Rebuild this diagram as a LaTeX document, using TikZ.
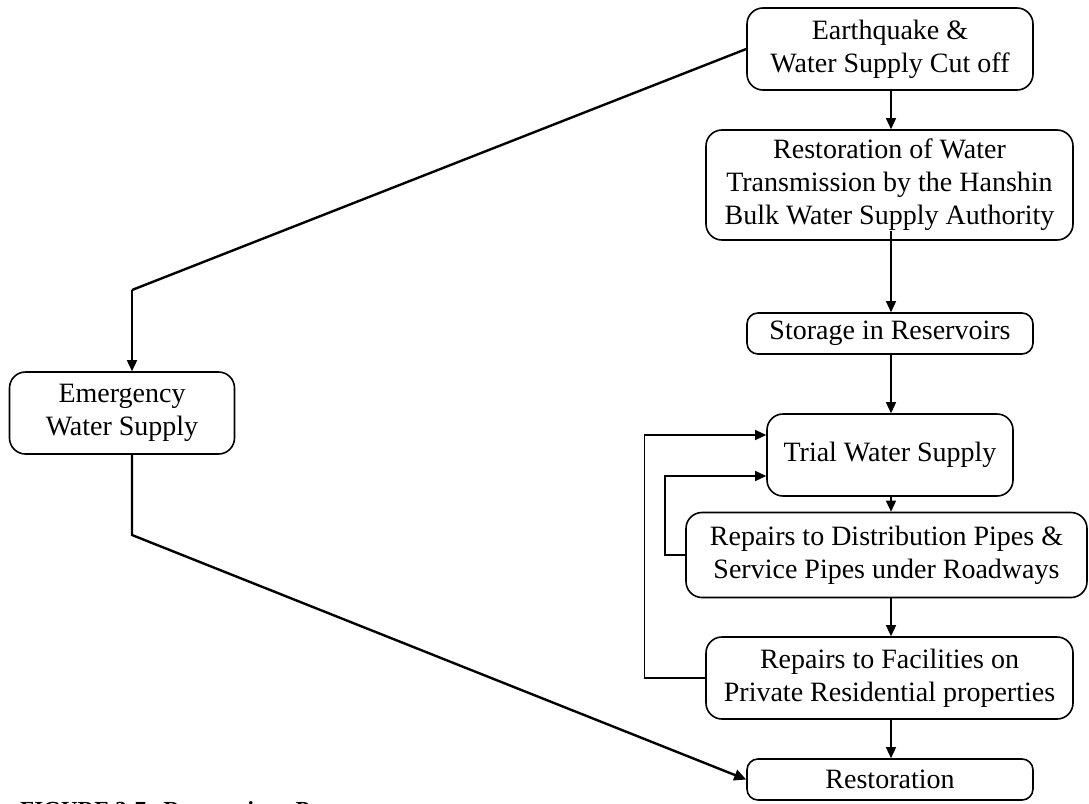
\documentclass[tikz,border=0pt]{standalone}
\usepackage{fontspec}
\setmainfont{Liberation Serif}
\usetikzlibrary{arrows.meta}
\begin{document}
\begin{tikzpicture}[x=1pt,y=-1pt,
  box/.style={draw, line width=1.6pt, rounded corners=16pt, align=center, inner sep=0pt,
    font=\fontsize{28}{33}\selectfont},
  flow/.style={line width=1.3pt, -{Triangle[length=11pt,width=10pt]}},
  heavy/.style={line width=2.4pt},
  heavyflow/.style={line width=2.4pt, -{Triangle[length=12pt,width=11pt]}},
]
\useasboundingbox (0,0) rectangle (1089,803);
\clip (0,0) rectangle (1089,803);

\node[box, minimum width=286pt, minimum height=82pt] (eq) at (890,49) {Earthquake \&\\Water Supply Cut off};
\node[box, minimum width=367pt, minimum height=110pt] (rw) at (889.5,185) {Restoration of Water\\Transmission by the Hanshin\\Bulk Water Supply Authority};
\node[box, rounded corners=11pt, minimum width=286pt, minimum height=41pt] (st) at (890,333.5) {Storage in Reservoirs};
\node[box, minimum width=246pt, minimum height=82pt] (tw) at (890,455) {\raisebox{4pt}{Trial Water Supply}};
\node[box, minimum width=401pt, minimum height=85pt] (rd) at (886.5,555) {Repairs to Distribution Pipes \&\\Service Pipes under Roadways};
\node[box, minimum width=367pt, minimum height=82pt] (rf) at (889.5,678) {Repairs to Facilities on\\Private Residential properties};
\node[box, rounded corners=11pt, minimum width=286pt, minimum height=41pt] (rs) at (890,779.5) {Restoration};
\node[box, minimum width=225pt, minimum height=82pt] (em) at (122,413) {Emergency\\Water Supply};

\node[anchor=base west, inner sep=0pt, font=\bfseries\fontsize{23}{27}\selectfont] (cap) at (20,817)
  {FIGURE 3-7\enspace\ Restoration\enspace\ Process};

% main column
\coordinate (col) at (891,0);
\draw[flow] (eq.south -| col) -- (rw.north -| col);
\draw[flow] ([yshift=10pt]rw.south -| col) -- (st.north -| col);
\draw[flow] (st.south -| col) -- (tw.north -| col);
\draw[flow] (tw.south -| col) -- (rd.north -| col);
\draw[flow] (rd.south -| col) -- (rf.north -| col);
\draw[flow] (rf.south -| col) -- (rs.north -| col);

% emergency branch
\coordinate (b1) at (132,290);
\coordinate (b2) at (132,535);
\draw[heavy] (eq.west) -- (b1);
\draw[flow, line width=1.6pt] (b1) -- (b1 |- em.north);
\draw[heavyflow] (em.south -| b2) -- (b2) -- (rs.west);

% feedback loops
\coordinate (o1) at (644.5,435);
\coordinate (i1) at (665,476);
\draw[flow] (rf.west) -| (o1) -- (o1 -| tw.west);
\draw[flow] (rd.west) -| (i1) -- (i1 -| tw.west);
\end{tikzpicture}
\end{document}
